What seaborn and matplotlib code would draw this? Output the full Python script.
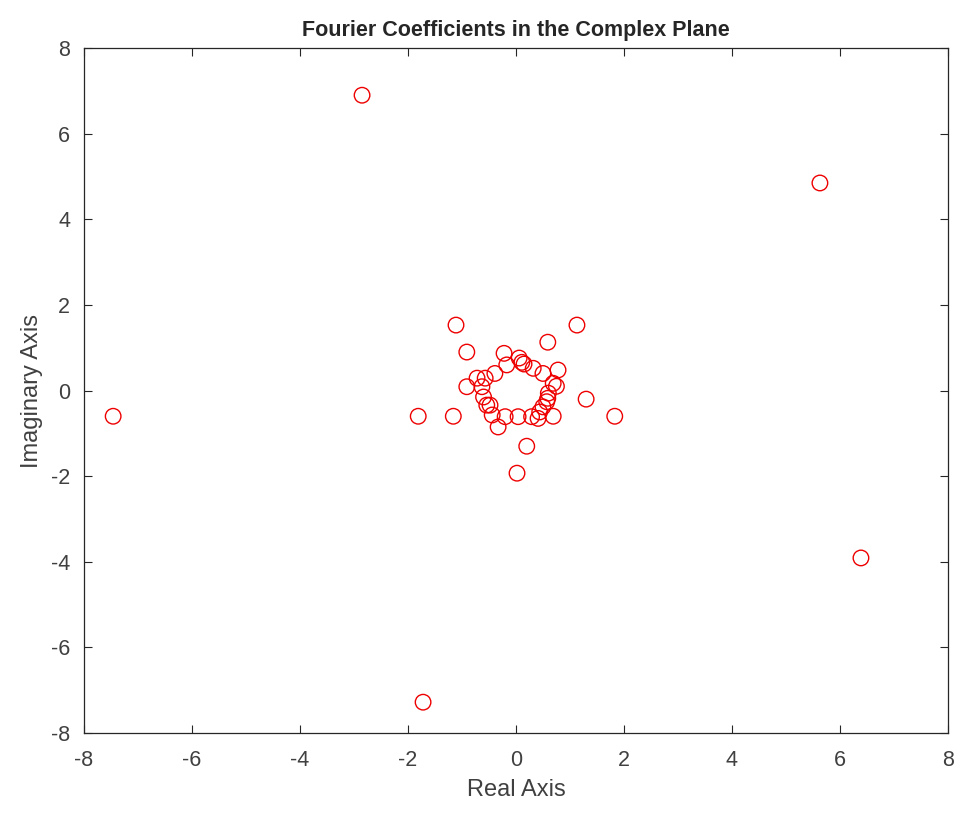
import numpy as np
import pandas as pd
import matplotlib
matplotlib.use("Agg")
import matplotlib.pyplot as plt
import seaborn as sns

# Fourier coefficients (real, imaginary)
real_part = [-2.85, 5.63, -7.46, 6.39, -1.72,
             -1.11, 1.13, 0.59, -0.91, -0.22, 0.06, 0.11, -0.17, 0.32, 0.50, 0.78,
             0.69, 0.75, 0.60, 0.57, 0.50, -0.39, -0.57, -0.72, -0.91, -0.63, -0.60,
             -0.48, -0.44, -0.20, 0.04, 0.29, 0.41, 0.69, -0.33,
             -1.81, -1.16, 1.83, 1.30, 0.20, 0.02,
             0.59, 0.44, 0.15, -0.54]
imag_part = [6.90, 4.85, -0.60, -3.91, -7.28,
             1.53, 1.53, 1.13, 0.90, 0.87, 0.76, 0.66, 0.60, 0.52, 0.40, 0.48,
             0.17, 0.10, -0.06, -0.26, -0.38, 0.40, 0.29, 0.29, 0.09, 0.09, -0.15,
             -0.34, -0.57, -0.61, -0.61, -0.61, -0.65, -0.60, -0.85,
             -0.60, -0.60, -0.60, -0.20, -1.30, -1.93,
             -0.18, -0.50, 0.62, -0.34]

df = pd.DataFrame({"Real": real_part, "Imag": imag_part})

sns.set_style("white")
plt.rcParams["font.family"] = ["Liberation Sans", "DejaVu Sans"]
plt.rcParams["axes.unicode_minus"] = False

fig = plt.figure(figsize=(9.59, 8.16), dpi=100)
ax = fig.add_axes([0.0876, 0.1017, 0.9008, 0.8393])

sns.scatterplot(data=df, x="Real", y="Imag", ax=ax, marker="o", s=125,
                facecolors="none", edgecolor="#ee0000", linewidth=1.0)

ax.set_xlim(-8, 8)
ax.set_ylim(-8, 8)
ax.set_xticks(np.arange(-8, 9, 2))
ax.set_yticks(np.arange(-8, 9, 2))
ax.tick_params(direction="in", bottom=True, left=True, top=True, right=True,
               length=6, width=0.8, labelsize=15.5, labelcolor="#404040",
               color="#262626")
ax.tick_params(axis="x", pad=12)
ax.tick_params(axis="y", pad=10)
for sp in ax.spines.values():
    sp.set_color("#262626")
    sp.set_linewidth(0.9)

ax.set_xlabel("Real Axis", fontsize=17, color="#404040", labelpad=6)
ax.set_ylabel("Imaginary Axis", fontsize=17, color="#404040", labelpad=6)
ax.set_title("Fourier Coefficients in the Complex Plane", fontsize=15.5,
             fontweight="bold", pad=9)

fig.savefig("out.png", dpi=100)
